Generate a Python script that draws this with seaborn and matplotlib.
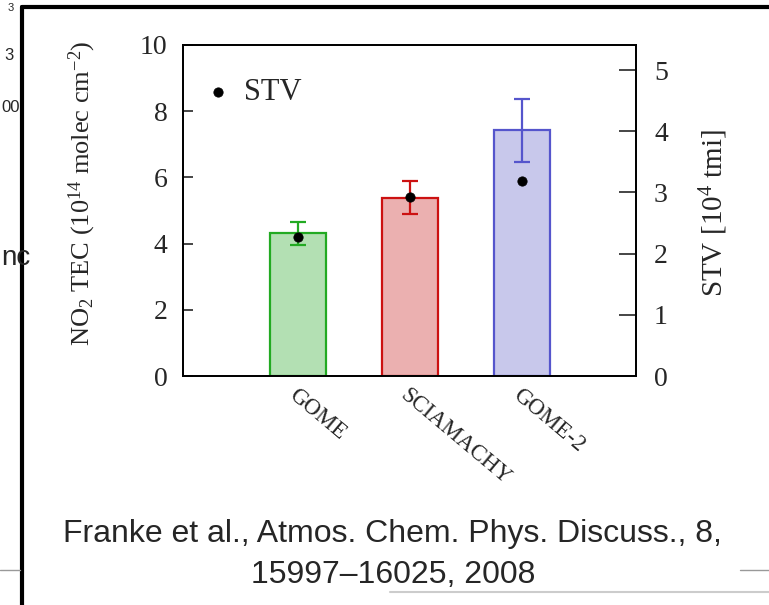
import matplotlib
matplotlib.use("Agg")
import matplotlib.pyplot as plt
from matplotlib.lines import Line2D
import seaborn as sns
import pandas as pd

# ---- data ----
instruments = ["GOME", "SCIAMACHY", "GOME-2"]
tec_values = [4.31, 5.38, 7.43]          # NO2 TEC (1e14 molec cm-2)
tec_errors = [0.35, 0.50, 0.95]
stv_values = [2.27, 2.92, 3.19]           # STV (1e4 tmi)
fill_colors = ["#b3e0b3", "#ebb0b0", "#c8c8eb"]
edge_colors = ["#22aa22", "#cc1111", "#5555cc"]
left_ticks = [0, 2, 4, 6, 8, 10]
right_ticks = [0, 1, 2, 3, 4, 5]

sns.set_style("ticks")
plt.rcParams["font.family"] = ["Liberation Serif", "DejaVu Serif"]
plt.rcParams["mathtext.fontset"] = "custom"
plt.rcParams["mathtext.rm"] = "Liberation Serif"
plt.rcParams["mathtext.it"] = "Liberation Serif:italic"

W, H = 769, 605
fig = plt.figure(figsize=(W / 100, H / 100), dpi=100)
ax = fig.add_axes([183 / W, 1 - 376 / H, (636 - 183) / W, (376 - 45) / H])

df = pd.DataFrame({"instrument": instruments, "tec": tec_values, "stv": stv_values})
sns.barplot(data=df, x="instrument", y="tec", hue="instrument",
            palette=fill_colors, width=0.5, legend=False, ax=ax,
            linewidth=1.5, saturation=1)
for patch, ec in zip(ax.patches, edge_colors):
    patch.set_edgecolor(ec)
    patch.set_linewidth(1.6)

for i, (v, e, ec) in enumerate(zip(tec_values, tec_errors, edge_colors)):
    ax.errorbar(i, v, yerr=e, fmt="none", ecolor=ec, elinewidth=1.6,
                capsize=6, capthick=1.6, zorder=5)

ax.set_xlim(-1.03, 3.02)
ax.set_ylim(0, 10)
ax.set_yticks(left_ticks)
ax.set_yticklabels([str(t) for t in left_ticks])
ax.tick_params(axis="y", direction="in", length=7, width=1.2, labelsize=20, pad=11)
ax.tick_params(axis="x", length=0, labelsize=16.5, pad=6)
for lab in ax.get_xticklabels():
    lab.set_rotation(-40)
    lab.set_ha("left")
    lab.set_va("top")
    lab.set_rotation_mode("anchor")
ax.set_xlabel("")
ax.set_ylabel(r"NO$_2$ TEC (10$^{14}$ molec cm$^{-2}$)", fontsize=19)
ax.yaxis.set_label_coords((98 - 183) / 453, (376 - 193) / 331)

ax2 = ax.twinx()
sns.scatterplot(x=list(range(len(instruments))), y=stv_values, ax=ax2,
                color="black", s=45, edgecolor="black", label="STV", zorder=6)
ax2.set_ylim(0, 5.41)
ax2.set_yticks(right_ticks)
ax2.set_yticklabels([str(t) for t in right_ticks])
ax2.tick_params(axis="y", direction="in", length=12, width=1.2, labelsize=20, pad=13)
ax2.set_ylabel(r"STV [10$^{4}$ tmi]", fontsize=21)
ax2.yaxis.set_label_coords((698 - 183) / 453, (376 - 213) / 331)
ax2.legend(loc="center left", bbox_to_anchor=((206 - 183) / 453, (376 - 93) / 331),
           frameon=False, fontsize=22, handletextpad=0.43, handlelength=0.8,
           borderpad=0, borderaxespad=0)

for a in (ax, ax2):
    for sp in a.spines.values():
        sp.set_visible(True)
        sp.set_color("black")
        sp.set_linewidth(1.3)

# caption
fig.text(392 / W, 1 - 534 / H, "Franke et al., Atmos. Chem. Phys. Discuss., 8,",
         ha="center", va="center", fontsize=23, family=["Liberation Sans"])
fig.text(393 / W, 1 - 575 / H, "15997\u201316025, 2008",
         ha="center", va="center", fontsize=23, family=["Liberation Sans"])

# slide frame artifacts
fig.add_artist(Line2D([22 / W, 1], [1 - 7 / H, 1 - 7 / H], color="black", lw=3,
                      transform=fig.transFigure))
fig.add_artist(Line2D([22 / W, 22 / W], [0, 1 - 7 / H], color="black", lw=3,
                      transform=fig.transFigure))
fig.add_artist(Line2D([0, 20 / W], [1 - 570 / H, 1 - 570 / H], color="#999999", lw=1,
                      transform=fig.transFigure))
fig.add_artist(Line2D([740 / W, 1], [1 - 570 / H, 1 - 570 / H], color="#999999", lw=1,
                      transform=fig.transFigure))
fig.add_artist(Line2D([390 / W, 1], [1 - 592 / H, 1 - 592 / H], color="#cccccc", lw=1.5,
                      transform=fig.transFigure))
fig.text(4 / W, 1 - 55 / H, "3", ha="left", va="center", fontsize=12,
         family=["Liberation Sans"])
fig.text(1 / W, 1 - 108 / H, "00", ha="left", va="center", fontsize=12,
         family=["Liberation Sans"])
fig.text(1 / W, 1 - 258 / H, "nc", ha="left", va="center", fontsize=20,
         family=["Liberation Sans"])
fig.text(8 / W, 1 - 3 / H, "3", ha="left", va="top", fontsize=8,
         family=["Liberation Sans"])

fig.savefig("out.png", dpi=100)
